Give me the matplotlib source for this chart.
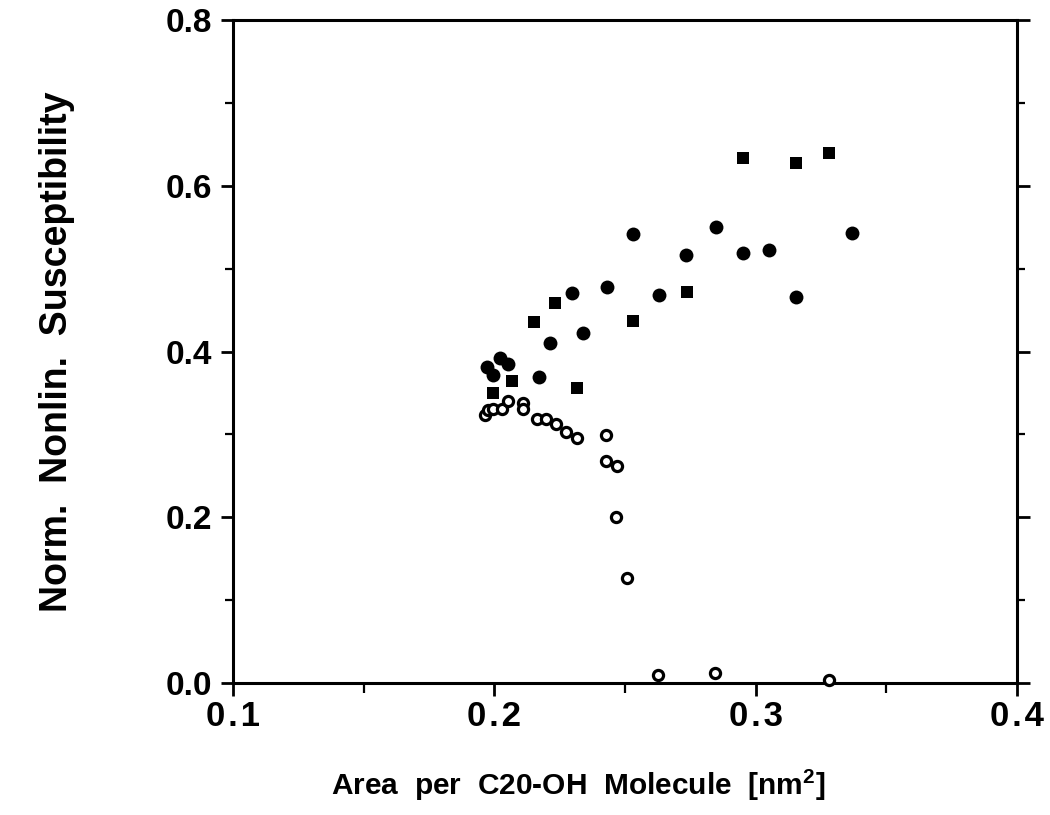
import matplotlib
matplotlib.use("Agg")
import matplotlib.pyplot as plt
from matplotlib.ticker import MultipleLocator, FixedLocator

plt.rcParams['font.family'] = ['Liberation Sans', 'DejaVu Sans']
plt.rcParams['font.weight'] = 'bold'
plt.rcParams['mathtext.fontset'] = 'custom'
plt.rcParams['mathtext.bf'] = 'Liberation Sans:bold'

# Filled squares
sq_x = [0.1995, 0.2068, 0.2152, 0.2232, 0.2316, 0.2531, 0.2737, 0.2952, 0.3155, 0.3281]
sq_y = [0.350, 0.365, 0.435, 0.458, 0.356, 0.437, 0.472, 0.633, 0.627, 0.639]

# Filled circles
fc_x = [0.1972, 0.1995, 0.2022, 0.2052, 0.2171, 0.2213, 0.2297, 0.2340, 0.2431,
        0.2531, 0.2630, 0.2734, 0.2848, 0.2952, 0.3051, 0.3155, 0.3369]
fc_y = [0.381, 0.372, 0.392, 0.385, 0.369, 0.410, 0.470, 0.422, 0.478,
        0.542, 0.468, 0.516, 0.550, 0.519, 0.522, 0.466, 0.543]

# Open circles
oc_x = [0.1964, 0.1976, 0.1995, 0.2029, 0.2052, 0.2110, 0.2110, 0.2163, 0.2198,
        0.2236, 0.2274, 0.2316, 0.2427, 0.2427, 0.2470, 0.2466, 0.2508, 0.2627,
        0.2845, 0.3280]
oc_y = [0.323, 0.329, 0.331, 0.331, 0.340, 0.338, 0.331, 0.318, 0.318,
        0.312, 0.303, 0.296, 0.299, 0.268, 0.262, 0.200, 0.127, 0.010,
        0.012, 0.004]

x_ticks = [0.1, 0.2, 0.3, 0.4]
x_tick_labels = ["0\u200a.\u200a1", "0\u200a.\u200a2", "0\u200a.\u200a3", "0\u200a.\u200a4"]
y_ticks = [0.0, 0.2, 0.4, 0.6, 0.8]
y_tick_labels = ["0.0", "0.2", "0.4", "0.6", "0.8"]

fig = plt.figure(figsize=(10.5, 8.15), dpi=100)
ax = fig.add_axes([233/1050, 1 - 683/815, (1017-233)/1050, (683-20)/815])

ax.plot(fc_x, fc_y, 'o', color='black', ms=10, mew=0, clip_on=False, zorder=3)
ax.plot(sq_x, sq_y, 's', color='black', ms=9.3, mew=0, clip_on=False, zorder=3)
ax.plot(oc_x, oc_y, 'o', mfc='white', mec='black', ms=7.3, mew=2.3, clip_on=False, zorder=4)

ax.set_xlim(0.1, 0.4)
ax.set_ylim(0.0, 0.8)

for s in ax.spines.values():
    s.set_linewidth(2.2)

ax.xaxis.set_major_locator(FixedLocator(x_ticks))
ax.set_xticklabels(x_tick_labels, fontsize=25, fontweight='bold')
ax.xaxis.set_minor_locator(MultipleLocator(0.05))
ax.yaxis.set_major_locator(FixedLocator(y_ticks))
ax.set_yticklabels(y_tick_labels, fontsize=24, fontweight='bold')
ax.yaxis.set_minor_locator(MultipleLocator(0.1))

ax.tick_params(axis='x', which='major', direction='out', length=9, width=2, pad=3, top=False)
ax.tick_params(axis='x', which='minor', direction='out', length=7, width=1.6, top=False)
ax.tick_params(axis='y', which='major', direction='out', length=9, width=2, pad=6, right=True)
ax.tick_params(axis='y', which='minor', direction='out', length=6, width=1.6, right=True)

fig.text(578/1050, 1 - 785/815, "Area  per  C20-OH  Molecule  [nm$^{\\mathbf{2}}$]",
         ha='center', va='center', fontsize=21.5, fontweight='bold')
fig.text(57/1050, 1 - 352/815, "Norm.  Nonlin.  Susceptibility", rotation=90,
         ha='center', va='center', fontsize=27, fontweight='bold')

fig.savefig("out.png", dpi=100, facecolor='white')
